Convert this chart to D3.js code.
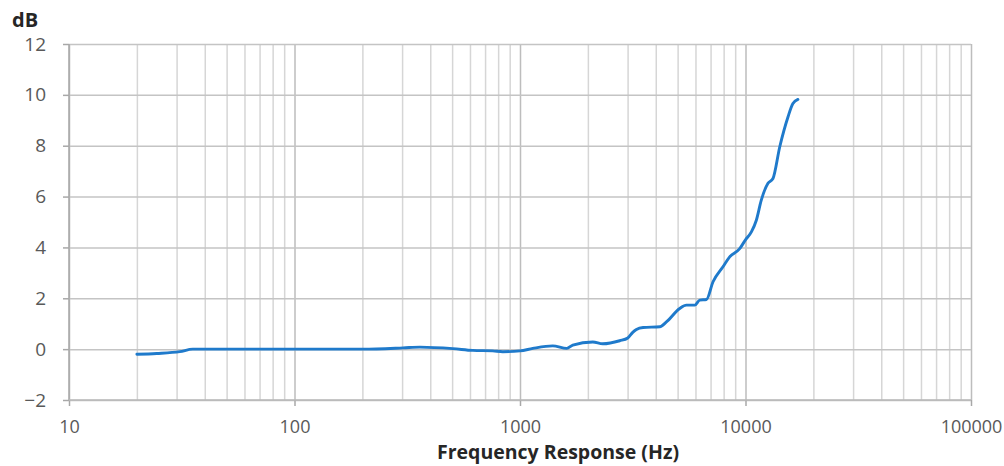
<!DOCTYPE html>
<html>
<head>
<meta charset="utf-8">
<script src="https://cdnjs.cloudflare.com/ajax/libs/d3/7.8.5/d3.min.js"></script>
<style>
  body { margin: 0; background: #fff; }
  .tick text { fill: #595959; font-family: "Open Sans", sans-serif; font-size: 18px; }
  .axis--y .tick text { font-size: 19px; }
  .grid line { stroke: #d6d6d6; stroke-width: 1.5; }
  .grid .major line { stroke: #bdbdbd; }
  .grid--y line { stroke: #c4c4c4; }
  .grid path, .axis path { display: none; }
  .axis line { stroke: #a8a8a8; stroke-width: 1.5; }
  .title { fill: #262626; font-family: "Open Sans", sans-serif; font-weight: bold; }
</style>
</head>
<body>
<script>
// frequency response samples (Hz, dB)
var freqs = [20, 24.5, 31, 35.4, 60, 100, 201, 303, 360, 504, 618, 757, 839, 1000, 1140, 1397, 1612, 1714, 2103,
             2328, 2768, 3006, 3162, 3282, 3514, 4169, 4459, 5108, 5470, 5957, 6266, 6711, 7178, 7945, 8509,
             9423, 10000, 10620, 11170, 11750, 12580, 13240, 14190, 15430, 16230, 17080];
var dB    = [-0.2, -0.17, -0.1, 0, 0, 0, 0, 0.05, 0.08, 0.02, -0.05, -0.07, -0.1, -0.07, 0.03, 0.13, 0.03, 0.16, 0.28,
             0.21, 0.33, 0.44, 0.66, 0.77, 0.85, 0.88, 1.07, 1.6, 1.73, 1.73, 1.93, 1.95, 2.65, 3.24, 3.63,
             3.95, 4.3, 4.61, 5.07, 5.86, 6.52, 6.71, 7.96, 9.13, 9.66, 9.82];
var yTicks = [-2, 0, 2, 4, 6, 8, 10, 12];
var xTicks = [10, 100, 1000, 10000, 100000];

var w = 1004, h = 466;
var mLeft = 69, mRight = 971, mTop = 44, mBottom = 400;

var svg = d3.select("body").append("svg").attr("width", w).attr("height", h);

var x = d3.scaleLog().domain([10, 100000]).range([mLeft, mRight]);
var y = d3.scaleLinear().domain([-2, 12]).range([mBottom, mTop]);

// minor log gridlines 20..90000
var minor = [];
xTicks.slice(0, -1).forEach(function(d) {
  for (var k = 2; k <= 9; k++) minor.push(d * k);
});

svg.append("g").attr("class", "grid")
   .attr("transform", "translate(0," + mBottom + ")")
   .call(d3.axisBottom(x).tickValues(minor).tickSize(-(mBottom - mTop)).tickFormat(""));

svg.append("g").attr("class", "grid")
   .attr("transform", "translate(0," + mBottom + ")")
   .call(d3.axisBottom(x).tickValues(xTicks).tickSize(-(mBottom - mTop)).tickFormat(""))
   .selectAll(".tick").classed("major", true);

svg.append("g").attr("class", "grid grid--y")
   .attr("transform", "translate(" + mLeft + ",0)")
   .call(d3.axisLeft(y).tickValues(yTicks).tickSize(-(mRight - mLeft)).tickFormat(""));

// axes
svg.append("g").attr("class", "axis axis--x")
   .attr("transform", "translate(0," + mBottom + ")")
   .call(d3.axisBottom(x).tickValues(xTicks).tickSize(6).tickPadding(14).tickFormat(d3.format("d")));
svg.append("g").attr("class", "axis axis--y")
   .attr("transform", "translate(" + mLeft + ",0)")
   .call(d3.axisLeft(y).tickValues(yTicks).tickSize(6).tickPadding(17));

svg.append("line").attr("x1", mLeft).attr("x2", mLeft).attr("y1", mTop).attr("y2", mBottom)
   .attr("stroke", "#a8a8a8").attr("stroke-width", 1.5);
svg.append("line").attr("x1", mLeft).attr("x2", mRight).attr("y1", mBottom).attr("y2", mBottom)
   .attr("stroke", "#b8b8b8").attr("stroke-width", 1.5);

// curve
var pts = freqs.map(function(f, i) { return [f, dB[i]]; });
svg.append("path")
   .datum(pts)
   .attr("fill", "none")
   .attr("stroke", "#1f7acb")
   .attr("stroke-width", 2.9)
   .attr("stroke-linejoin", "round")
   .attr("stroke-linecap", "round")
   .attr("d", d3.line().curve(d3.curveMonotoneX)
     .x(function(d) { return x(d[0]); })
     .y(function(d) { return y(d[1]); }));

// titles
svg.append("text").attr("class", "title").attr("x", 12).attr("y", 27)
   .style("font-size", "20px").text("dB");
svg.append("text").attr("class", "title").attr("x", 558).attr("y", 459)
   .attr("text-anchor", "middle").style("font-size", "19.5px").text("Frequency Response (Hz)");
</script>
</body>
</html>
